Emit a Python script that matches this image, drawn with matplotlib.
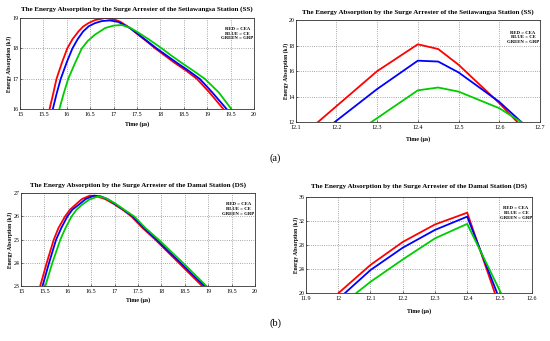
import matplotlib
matplotlib.use("Agg")
import matplotlib.pyplot as plt

plt.rcParams['font.family'] = ['Liberation Serif', 'DejaVu Serif']

# ---------------- data ----------------
# (a) left: Setiawangsa, smooth curves
ss1_red_x = [15.63, 15.7, 15.78, 15.9, 16.01, 16.12, 16.25, 16.35, 16.46, 16.6, 16.82, 17.0, 17.14,
             17.35, 17.5, 17.7, 17.89, 18.1, 18.3, 18.55, 18.78, 19.05, 19.35]
ss1_red_y = [16.0, 16.45, 17.0, 17.55, 18.0, 18.3, 18.56, 18.72, 18.83, 18.93, 19.0, 18.96, 18.88,
             18.67, 18.48, 18.24, 18.0, 17.76, 17.53, 17.27, 17.0, 16.55, 16.0]
ss1_blue_x = [15.70, 15.78, 15.87, 16.0, 16.12, 16.23, 16.35, 16.47, 16.6, 16.75, 16.92, 17.1, 17.35,
              17.5, 17.7, 17.92, 18.13, 18.35, 18.6, 18.84, 19.1, 19.42]
ss1_blue_y = [16.0, 16.5, 17.0, 17.55, 18.0, 18.3, 18.56, 18.73, 18.83, 18.9, 18.92, 18.87, 18.67,
              18.5, 18.26, 18.0, 17.77, 17.53, 17.27, 17.0, 16.57, 16.0]
ss1_green_x = [15.84, 15.93, 16.03, 16.17, 16.32, 16.45, 16.6, 16.82, 17.0, 17.17, 17.35, 17.5, 17.75,
               18.03, 18.23, 18.45, 18.7, 18.95, 19.25, 19.52]
ss1_green_y = [16.0, 16.5, 17.0, 17.5, 18.0, 18.25, 18.45, 18.67, 18.75, 18.77, 18.68, 18.55, 18.3,
               18.0, 17.77, 17.53, 17.27, 17.0, 16.55, 16.0]

# (a) right: Setiawangsa zoom, piecewise linear
ss2_red_x = [12.154, 12.3, 12.4, 12.45, 12.5, 12.6, 12.645]
ss2_red_y = [12.0, 16.0, 18.1, 17.73, 16.5, 13.5, 12.0]
ss2_blue_x = [12.195, 12.3, 12.4, 12.45, 12.5, 12.6, 12.655]
ss2_blue_y = [12.0, 14.6, 16.82, 16.75, 15.9, 13.6, 12.0]
ss2_green_x = [12.285, 12.4, 12.45, 12.5, 12.6, 12.655]
ss2_green_y = [12.0, 14.5, 14.72, 14.4, 13.1, 12.0]

# (b) left: Damai, smooth curves
ds1_red_x = [15.41, 15.55, 15.7, 15.8, 15.94, 16.05, 16.16, 16.3, 16.47, 16.6, 16.8, 17.0, 17.2,
             17.36, 17.6, 17.87, 18.12, 18.37, 18.62, 18.87]
ds1_red_y = [23.0, 24.0, 25.0, 25.5, 26.0, 26.3, 26.5, 26.75, 26.9, 26.88, 26.75, 26.52, 26.25,
             26.0, 25.5, 25.0, 24.5, 24.0, 23.5, 23.0]
ds1_blue_x = [15.46, 15.6, 15.75, 15.86, 15.99, 16.1, 16.23, 16.38, 16.56, 16.7, 16.85, 17.0, 17.2,
              17.39, 17.63, 17.9, 18.15, 18.41, 18.66, 18.92]
ds1_blue_y = [23.0, 24.0, 25.0, 25.5, 26.0, 26.3, 26.5, 26.75, 26.9, 26.87, 26.75, 26.55, 26.28,
              26.0, 25.5, 25.0, 24.5, 24.0, 23.5, 23.0]
ds1_green_x = [15.52, 15.67, 15.84, 15.95, 16.08, 16.19, 16.3, 16.45, 16.65, 16.8, 17.0, 17.2,
               17.42, 17.66, 17.94, 18.2, 18.46, 18.71, 18.96]
ds1_green_y = [23.0, 24.0, 25.0, 25.5, 26.0, 26.3, 26.5, 26.72, 26.87, 26.8, 26.58, 26.3,
               26.0, 25.5, 25.0, 24.5, 24.0, 23.5, 23.0]

# (b) right: Damai zoom
ds2_red_x = [12.0, 12.1, 12.2, 12.3, 12.4, 12.486]
ds2_red_y = [20.0, 24.7, 28.5, 31.4, 33.35, 20.0]
ds2_blue_x = [12.02, 12.1, 12.2, 12.3, 12.4, 12.493]
ds2_blue_y = [20.0, 23.85, 27.55, 30.5, 32.7, 20.0]
ds2_green_x = [12.055, 12.1, 12.2, 12.3, 12.4, 12.505]
ds2_green_y = [20.0, 21.9, 25.6, 29.1, 31.5, 20.0]

ss1_xticks = [15, 15.5, 16, 16.5, 17, 17.5, 18, 18.5, 19, 19.5, 20]
ss1_xlabels = ['15', '15.5', '16', '16.5', '17', '17.5', '18', '18.5', '19', '19.5', '20']
ss1_yticks = [16, 17, 18, 19]
ss2_xticks = [12.1, 12.2, 12.3, 12.4, 12.5, 12.6, 12.7]
ss2_yticks = [12, 14, 16, 18, 20]
ds1_yticks = [23, 24, 25, 26, 27]
ds2_xticks = [11.9, 12, 12.1, 12.2, 12.3, 12.4, 12.5, 12.6]
ds2_xlabels = ['11.9', '12', '12.1', '12.2', '12.3', '12.4', '12.5', '12.6']
ds2_yticks = [20, 24, 28, 32, 36]

title_ss = "The Energy Absorption by the Surge Arrester of the Setiawangsa Station (SS)"
title_ds = "The Energy Absorption by the Surge Arrester of the Damai Station (DS)"
legend_text = "RED = CEA\nBLUE = CE\nGREEN = GRP"

RED = '#ff0000'
BLUE = '#0000ff'
GREEN = '#00cc00'

W, H = 550, 341
fig = plt.figure(figsize=(W / 100, H / 100), dpi=100)
fig.patch.set_facecolor('white')


def rect(l, t, r, b):
    return [l / W, 1 - b / H, (r - l) / W, (b - t) / H]


def style(ax, title, xlim, ylim, xticks, yticks, xlabels=None,
          title_y=None, xlab_y=None, ylab_x=None, tfs=5.0):
    ax.set_xlim(*xlim)
    ax.set_ylim(*ylim)
    ax.set_xticks(xticks)
    ax.set_yticks(yticks)
    if xlabels is not None:
        ax.set_xticklabels(xlabels)
    ax.tick_params(labelsize=4.3, length=1.5, width=0.4, pad=1, direction='in')
    ax.tick_params(axis='x', pad=2.2)
    ax.grid(True, linestyle=':', color='#888888', linewidth=0.6)
    for s in ax.spines.values():
        s.set_linewidth(0.6)
        s.set_color('#333333')
    ax.text(0.5, title_y, title, transform=ax.transAxes, ha='center', va='center',
            fontsize=tfs, fontweight='bold')
    ax.text(0.5, xlab_y, "Time (μs)", transform=ax.transAxes, ha='center', va='center',
            fontsize=4.3, fontweight='bold')
    ax.text(ylab_x, 0.5, "Energy Absorption (kJ)", transform=ax.transAxes, ha='center',
            va='center', rotation=90, fontsize=4.0, fontweight='bold')
    ax.text(0.93, 0.83, legend_text, transform=ax.transAxes, ha='center', va='center',
            fontsize=3.4, fontweight='bold', linespacing=1.25)


lw = 1.3

# (a) left
ax1 = fig.add_axes(rect(20, 18, 254, 109.3))
ax1.plot(ss1_red_x, ss1_red_y, color=RED, lw=lw)
ax1.plot(ss1_blue_x, ss1_blue_y, color=BLUE, lw=lw)
ax1.plot(ss1_green_x, ss1_green_y, color=GREEN, lw=lw)
style(ax1, title_ss, (15, 20), (16, 19), ss1_xticks, ss1_yticks, xlabels=ss1_xlabels,
      title_y=1.1, xlab_y=-0.165, ylab_x=-0.045)

# (a) right
ax2 = fig.add_axes(rect(295.7, 20, 540, 122.3))
ax2.plot(ss2_red_x, ss2_red_y, color=RED, lw=lw)
ax2.plot(ss2_blue_x, ss2_blue_y, color=BLUE, lw=lw)
ax2.plot(ss2_green_x, ss2_green_y, color=GREEN, lw=lw)
style(ax2, title_ss, (12.1, 12.7), (12, 20), ss2_xticks, ss2_yticks,
      title_y=1.08, xlab_y=-0.16, ylab_x=-0.04)

# (b) left
ax3 = fig.add_axes(rect(21, 193.3, 255, 286))
ax3.plot(ds1_red_x, ds1_red_y, color=RED, lw=lw)
ax3.plot(ds1_blue_x, ds1_blue_y, color=BLUE, lw=lw)
ax3.plot(ds1_green_x, ds1_green_y, color=GREEN, lw=lw)
style(ax3, title_ds, (15, 20), (23, 27), ss1_xticks, ds1_yticks, xlabels=ss1_xlabels,
      title_y=1.09, xlab_y=-0.155, ylab_x=-0.047)

# (b) right
ax4 = fig.add_axes(rect(306, 196.7, 531.7, 293.3))
ax4.plot(ds2_red_x, ds2_red_y, color=RED, lw=lw)
ax4.plot(ds2_blue_x, ds2_blue_y, color=BLUE, lw=lw)
ax4.plot(ds2_green_x, ds2_green_y, color=GREEN, lw=lw)
style(ax4, title_ds, (11.9, 12.6), (20, 36), ds2_xticks, ds2_yticks, xlabels=ds2_xlabels,
      title_y=1.11, xlab_y=-0.18, ylab_x=-0.045)

fig.text(275 / W, 1 - 158 / H, "(a)", ha='center', va='center', fontsize=7.5)
fig.text(275 / W, 1 - 323 / H, "(b)", ha='center', va='center', fontsize=7.5)

fig.savefig("out.png", dpi=100, facecolor='white')
